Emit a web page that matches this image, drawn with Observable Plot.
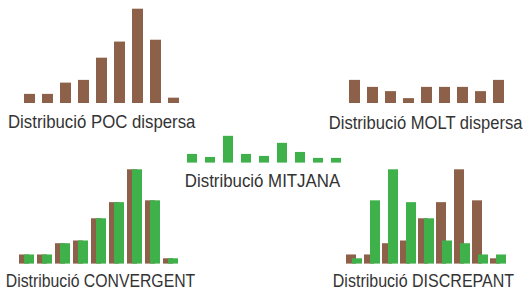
<!DOCTYPE html>
<html><head><meta charset="utf-8">
<script src="https://cdn.jsdelivr.net/npm/d3@7"></script>
<script src="https://cdn.jsdelivr.net/npm/@observablehq/plot@0.6"></script>
<style>
html,body{margin:0;padding:0;background:#fff;}
#chart{position:relative;width:526px;height:295px;overflow:hidden;background:#fff;}
#chart svg{position:absolute;left:0;top:0;}
</style></head><body><div id="chart"></div>
<script>
// ---- data ----
const bins = ["1","2","3","4","5","6","7","8","9"];
const pocDispersa   = [3, 3, 6.7, 7.6, 14.9, 20.2, 31, 20.8, 1.75];
const moltDispersa  = [7.6, 5.3, 3.9, 1.6, 5.3, 5.3, 5.3, 3.9, 7.6];
const mitjana       = [2.85, 1.85, 8.8, 2.85, 2.2, 6.5, 3.5, 1.55, 1.55];
const convergentA   = [3, 3, 6.7, 7.6, 14.9, 20.2, 31, 20.8, 1.75];
const convergentB   = [3, 3, 6.7, 7.6, 14.9, 20.2, 31, 20.8, 1.75];
const discrepantA   = [3, 3, 6.7, 7.6, 14.9, 20.2, 31, 20.8, 1.75];
const discrepantB   = [1.75, 20.8, 31, 20.2, 14.9, 7.6, 6.7, 3, 3];
const labels = ["Distribució POC dispersa", "Distribució MOLT dispersa", "Distribució MITJANA",
                "Distribució CONVERGENT", "Distribució DISCREPANT"];

const brown = "#8d6049";
const green = "#3fb14b";
const W = 526, H = 295;
const root = document.getElementById("chart");

const toRows = arr => bins.map((b, i) => ({bin: b, v: arr[i]}));

function panel({a, b, colorA, xRange, step, baseline, dx}) {
  const pi = 1 - 11 / step;
  const marks = [Plot.barY(toRows(a), {x: "bin", y: "v", fill: colorA, dx: b ? dx : 0})];
  if (b) marks.push(Plot.barY(toRows(b), {x: "bin", y: "v", fill: green}));
  const p = Plot.plot({
    width: W, height: H, margin: 0,
    style: {background: "transparent", overflow: "visible"},
    x: {type: "band", domain: bins, range: xRange, paddingInner: pi, paddingOuter: pi / 2, axis: null},
    y: {domain: [0, 31], range: [baseline, baseline - 94.3], axis: null},
    marks
  });
  root.appendChild(p);
}

panel({a: pocDispersa, colorA: brown, xRange: [17.125, 185.875], step: 18.75, baseline: 103});
panel({a: moltDispersa, colorA: brown, xRange: [342.125, 510.875], step: 18.75, baseline: 103});
panel({a: mitjana, colorA: green, xRange: [179.06, 348.94], step: 18.875, baseline: 162.6});
panel({a: convergentA, b: convergentB, colorA: brown, xRange: [16.06, 185.94], step: 18.875, baseline: 263.6, dx: -5});
panel({a: discrepantA, b: discrepantB, colorA: brown, xRange: [344.06, 513.94], step: 18.875, baseline: 263.6, dx: -6});

// ---- labels (condensed by a horizontal scale to match the narrow face) ----
const labelPos = [
  {x: 8, y: 128, len: 187.5},
  {x: 328.8, y: 128.5, len: 193.8},
  {x: 184.8, y: 187, len: 155.5},
  {x: 5.8, y: 287, len: 189.5},
  {x: 332.8, y: 287, len: 181.5}
];
const svg = d3.select(root).append("svg").attr("width", W).attr("height", H);
svg.selectAll("text").data(labels).join("text")
  .attr("font-family", "'Liberation Sans', Arial, sans-serif")
  .attr("font-size", 18)
  .attr("fill", "#333")
  .text(d => d)
  .each(function(d, i) {
    const natural = this.getComputedTextLength();
    const sx = labelPos[i].len / natural;
    d3.select(this).attr("transform", `translate(${labelPos[i].x},${labelPos[i].y}) scale(${sx},1)`);
  });
</script></body></html>
